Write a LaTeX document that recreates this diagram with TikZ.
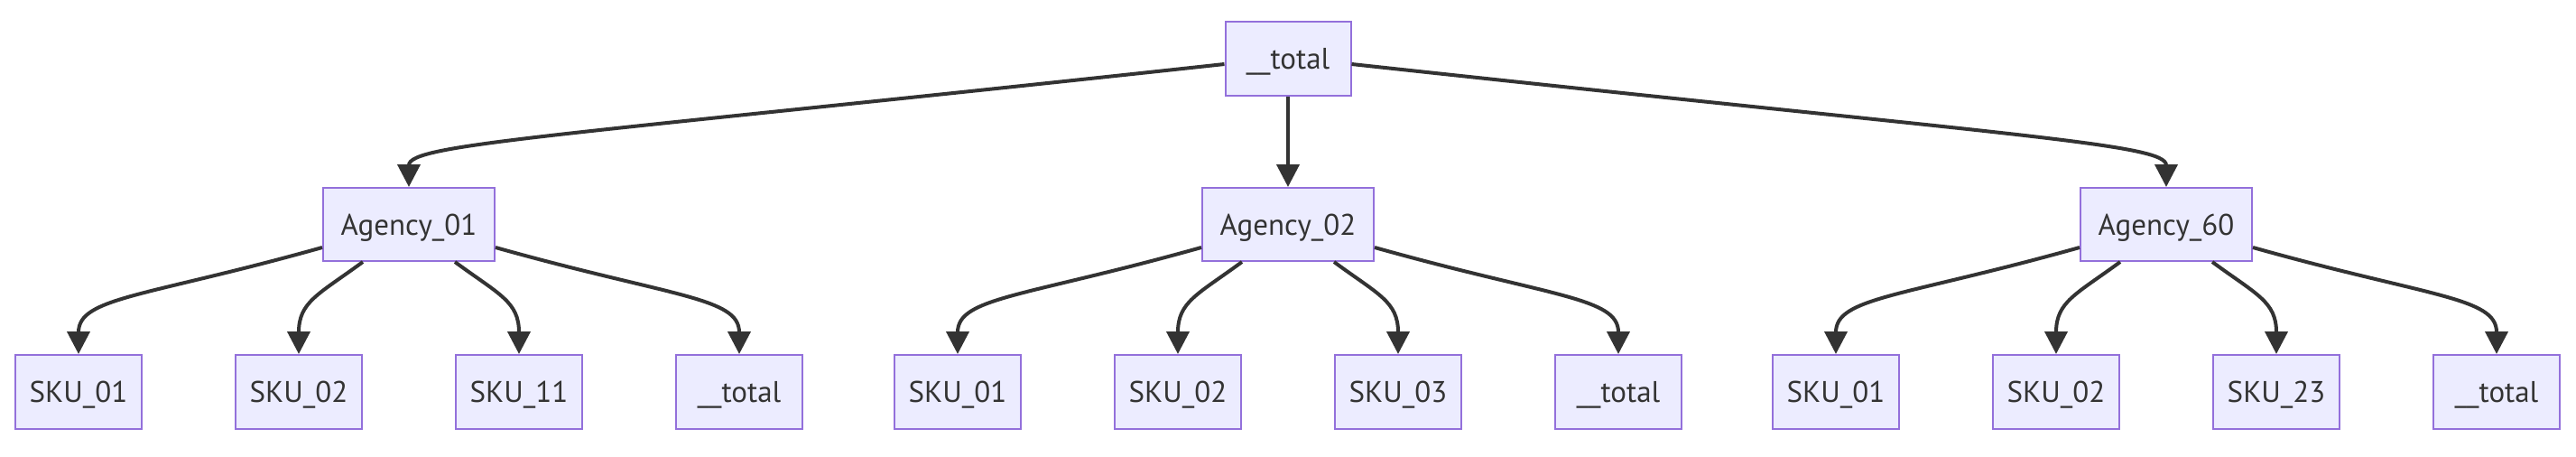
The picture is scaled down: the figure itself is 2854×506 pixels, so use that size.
\documentclass[tikz,border=0pt]{standalone}
\usepackage{fontspec}
\setmainfont{PT Sans}
\usetikzlibrary{arrows.meta,calc}
\definecolor{nodefill}{HTML}{ECECFF}
\definecolor{nodeborder}{HTML}{9370DB}
\definecolor{edgecol}{HTML}{333333}
\tikzset{
  box/.style={draw=nodeborder, fill=nodefill, line width=2pt, minimum height=82pt,
    inner sep=0pt, text=edgecol, font=\fontsize{33}{39}\selectfont,
    text height=23pt, text depth=0pt, anchor=center},
  skubox/.style={box, minimum width=140pt},
  agbox/.style={box, minimum width=190pt, minimum height=81pt},
  topbox/.style={box, minimum width=139pt},
  edge/.style={draw=edgecol, line width=4pt, -{Triangle[length=25pt,width=25pt]}},
}
\begin{document}
\begin{tikzpicture}[x=1pt,y=-1pt]
\useasboundingbox (0,0) rectangle (2854,506);
% top
\node[topbox] (top) at (1427,65) {\_\_total};
% agencies
\node[agbox] (a1) at (453,248.5) {Agency\_01};
\node[agbox] (a2) at (1427,248.5) {Agency\_02};
\node[agbox] (a3) at (2400,248.5) {Agency\_60};
% skus group 1
\node[skubox] (s11) at (87,434) {SKU\_01};
\node[skubox] (s12) at (331,434) {SKU\_02};
\node[skubox] (s13) at (575,434) {SKU\_11};
\node[skubox] (s14) at (819,434) {\_\_total};
% group 2
\node[skubox] (s21) at (1061,434) {SKU\_01};
\node[skubox] (s22) at (1305,434) {SKU\_02};
\node[skubox] (s23) at (1549,434) {SKU\_03};
\node[skubox] (s24) at (1793,434) {\_\_total};
% group 3
\node[skubox] (s31) at (2034,434) {SKU\_01};
\node[skubox] (s32) at (2278,434) {SKU\_02};
\node[skubox] (s33) at (2522,434) {SKU\_23};
\node[skubox] (s34) at (2766,434) {\_\_total};
% top edges
\draw[edge] ($(top.west)+(0,6)$) .. controls +(-738,80) and +(0,-48) .. (a1.north);
\draw[edge] (top.south) -- (a2.north);
\draw[edge] ($(top.east)+(0,6)$) .. controls +(738,80) and +(0,-48) .. (a3.north);
% group edges
\foreach \a/\b in {a1/s1, a2/s2, a3/s3}{
  \draw[edge] ($(\a.south west)+(0,-16)$) .. controls +(-196,55) and +(0,-63) .. (\b1.north);
  \draw[edge] ($(\a.south)+(-51,0)$) .. controls +(-49,36) and +(0,-58) .. (\b2.north);
  \draw[edge] ($(\a.south)+(51,0)$) .. controls +(49,36) and +(0,-58) .. (\b3.north);
  \draw[edge] ($(\a.south east)+(0,-16)$) .. controls +(196,55) and +(0,-63) .. (\b4.north);
}
\end{tikzpicture}
\end{document}
